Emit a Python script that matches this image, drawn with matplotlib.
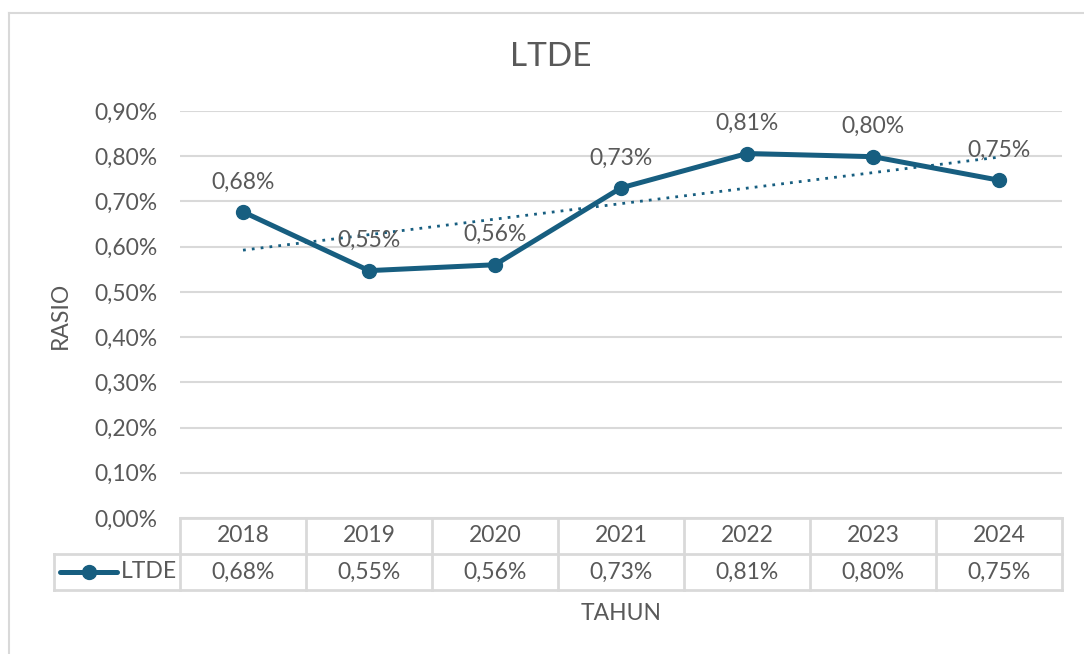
import numpy as np
import matplotlib
matplotlib.use("Agg")
import matplotlib.pyplot as plt
from matplotlib.lines import Line2D

# data (percent)
years = ["2018", "2019", "2020", "2021", "2022", "2023", "2024"]
ltde = [0.677, 0.547, 0.560, 0.730, 0.806, 0.799, 0.747]
yticks = [0.0, 0.1, 0.2, 0.3, 0.4, 0.5, 0.6, 0.7, 0.8, 0.9]

plt.rcParams['font.family'] = ['Lato', 'DejaVu Sans']
TXT = '#595959'
LINE = '#175e80'
GRID = '#d9d9d9'
FS = 16.5

def fmt(v):
    return f"{v:.2f}%".replace('.', ',')

W, H = 1084, 654
fig = plt.figure(figsize=(W / 100, H / 100), dpi=100)

def px(x0, y0, x1, y1):
    # pixel box -> figure fraction [left, bottom, width, height]
    return [x0 / W, 1 - y1 / H, (x1 - x0) / W, (y1 - y0) / H]

# outer chart frame
fig.add_artist(Line2D([9 / W, 9 / W], [0, 1 - 13 / H], color=GRID, lw=1.5))
fig.add_artist(Line2D([9 / W, 1], [1 - 13 / H, 1 - 13 / H], color=GRID, lw=1.5))

#---------------------------------main plot
ax = fig.add_axes(px(180, 111, 1062, 518))
x = np.arange(len(years))
ax.plot(x, ltde, color=LINE, lw=3.6, marker='o', ms=10, zorder=3, solid_capstyle='round')

# linear trendline
k, b = np.polyfit(x, ltde, 1)
ax.plot(x, k * x + b, color=LINE, lw=2.0, ls=(0, (1, 2.2)), zorder=2)

for xi, v in zip(x, ltde):
    ax.annotate(fmt(v), (xi, v), xytext=(0, 14), textcoords='offset points',
                ha='center', va='bottom', fontsize=FS, color=TXT, zorder=4)

ax.set_xlim(-0.5, len(years) - 0.5)
ax.set_ylim(0, 0.9)
ax.set_yticks(yticks)
ax.set_yticklabels([fmt(t) for t in yticks], fontsize=FS, color=TXT)
ax.set_xticks([])
ax.tick_params(axis='y', length=0, pad=16)
ax.grid(axis='y', color=GRID, lw=1.5)
ax.set_axisbelow(True)
for s in ax.spines.values():
    s.set_visible(False)

fig.text(551 / W, 1 - 57 / H, "LTDE", ha='center', va='center', fontsize=24, color=TXT)
fig.text(60 / W, 1 - 315 / H, "RASIO", ha='center', va='center', rotation=90, fontsize=FS, color=TXT)
fig.text(621 / W, 1 - 613 / H, "TAHUN", ha='center', va='center', fontsize=FS, color=TXT)

#---------------------------------data table
tb = fig.add_axes(px(54, 518, 1062, 590))
tb.set_xlim(-1.5, len(years) - 0.5)
tb.set_ylim(0, 2)
tb.axis('off')
n = len(years)
tb.plot([-0.5, n - 0.5], [2, 2], color=GRID, lw=2, clip_on=False)
tb.plot([-1.5, n - 0.5], [1, 1], color=GRID, lw=2, clip_on=False)
tb.plot([-1.5, n - 0.5], [0, 0], color=GRID, lw=2, clip_on=False)
tb.plot([-1.5, -1.5], [0, 1], color=GRID, lw=2, clip_on=False)
for i in range(n + 1):
    tb.plot([i - 0.5, i - 0.5], [0, 2], color=GRID, lw=2, clip_on=False)
for i, (yr, v) in enumerate(zip(years, ltde)):
    tb.text(i, 1.5, yr, ha='center', va='center', fontsize=FS, color=TXT)
    tb.text(i, 0.5, fmt(v), ha='center', va='center', fontsize=FS, color=TXT)
# legend key inside the table
tb.plot([-1.45, -1.0], [0.5, 0.5], color=LINE, lw=3.6, solid_capstyle='round')
tb.plot([-1.225], [0.5], color=LINE, marker='o', ms=10)
tb.text(-0.97, 0.5, "LTDE", ha='left', va='center', fontsize=FS, color=TXT)

fig.savefig("out.png", dpi=100)
